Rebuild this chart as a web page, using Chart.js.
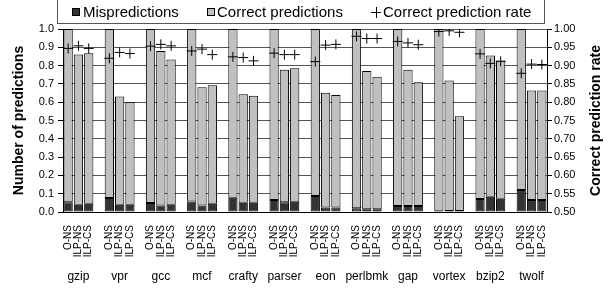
<!DOCTYPE html>
<html>
<head>
<meta charset="utf-8">
<script src="https://cdn.jsdelivr.net/npm/chart.js@4.4.0/dist/chart.umd.min.js"></script>
<style>
  html, body { margin: 0; padding: 0; background: #fff; }
  #wrap { width: 610px; height: 292px; }
</style>
</head>
<body>
<div id="wrap"><canvas id="chart" width="610" height="292"></canvas></div>
<script>
const benchmarks = ['gzip', 'vpr', 'gcc', 'mcf', 'crafty', 'parser', 'eon', 'perlbmk', 'gap', 'vortex', 'bzip2', 'twolf'];
const configs = ['O-NS', 'ILP-NS', 'ILP-CS'];

// fraction of predictions that were wrong
const mispONS   = [0.053, 0.076, 0.049, 0.058, 0.078, 0.065, 0.087, 0.020, 0.033, 0.007, 0.071, 0.120];
const mispILPNS = [0.040, 0.040, 0.036, 0.036, 0.051, 0.053, 0.025, 0.015, 0.033, 0.005, 0.083, 0.066];
const mispILPCS = [0.045, 0.040, 0.040, 0.045, 0.051, 0.056, 0.025, 0.015, 0.033, 0.005, 0.072, 0.066];

// fraction of predictions that were right
const corrONS   = [0.947, 0.924, 0.951, 0.942, 0.922, 0.935, 0.913, 0.980, 0.967, 0.993, 0.929, 0.880];
const corrILPNS = [0.820, 0.591, 0.844, 0.646, 0.593, 0.724, 0.627, 0.756, 0.744, 0.714, 0.772, 0.598];
const corrILPCS = [0.822, 0.560, 0.793, 0.648, 0.584, 0.730, 0.615, 0.724, 0.676, 0.518, 0.755, 0.598];

// correct prediction rate (right axis)
const rateONS   = [0.947, 0.920, 0.953, 0.940, 0.924, 0.934, 0.911, 0.980, 0.966, 0.993, 0.932, 0.879];
const rateILPNS = [0.954, 0.936, 0.958, 0.945, 0.922, 0.930, 0.956, 0.974, 0.962, 0.995, 0.906, 0.904];
const rateILPCS = [0.947, 0.933, 0.954, 0.930, 0.913, 0.930, 0.958, 0.974, 0.957, 0.991, 0.912, 0.903];

const leftTicks = { min: 0, max: 1, step: 0.1 };
const rightTicks = { min: 0.5, max: 1, step: 0.05 };

// one slot per bar, plus an empty slot between benchmarks
const misp = [mispONS, mispILPNS, mispILPCS];
const corr = [corrONS, corrILPNS, corrILPCS];
const rate = [rateONS, rateILPNS, rateILPCS];
const labels = [], mispData = [], corrData = [], rateData = [];
benchmarks.forEach((b, i) => {
  configs.forEach((c, j) => {
    labels.push(c);
    mispData.push(misp[j][i]);
    corrData.push(corr[j][i]);
    rateData.push(rate[j][i]);
  });
  if (i < benchmarks.length - 1) {
    labels.push('');
    mispData.push(null);
    corrData.push(null);
    rateData.push(null);
  }
});

Chart.defaults.font.family = "'Liberation Sans', Arial, sans-serif";
Chart.defaults.color = '#000';

const FONT = "'Liberation Sans', Arial, sans-serif";

const extras = {
  id: 'extras',
  afterDraw(chart) {
    const c = chart.ctx;
    const x = chart.scales.x;
    const area = chart.chartArea;
    const ds = chart.data.datasets;
    c.save();

    // legend box
    c.fillStyle = '#fff';
    c.strokeStyle = '#555';
    c.lineWidth = 1;
    c.fillRect(57.5, -1.5, 487, 25);
    c.strokeRect(57.5, -1.5, 487, 25);

    c.font = '15px ' + FONT;
    c.textBaseline = 'alphabetic';
    // Mispredictions
    c.fillStyle = ds[0].backgroundColor;
    c.fillRect(72.5, 8.5, 7, 7);
    c.strokeStyle = '#000';
    c.strokeRect(72.5, 8.5, 7, 7);
    c.fillStyle = '#000';
    c.fillText(ds[0].label, 83, 17);
    // Correct predictions
    c.fillStyle = ds[1].backgroundColor;
    c.fillRect(207.5, 8.5, 7, 7);
    c.strokeRect(207.5, 8.5, 7, 7);
    c.fillStyle = '#000';
    c.fillText(ds[1].label, 217, 17);
    // rate marker
    c.beginPath();
    c.moveTo(371, 12.5); c.lineTo(381, 12.5);
    c.moveTo(376.5, 7); c.lineTo(376.5, 18);
    c.stroke();
    c.fillText(ds[2].label, 383, 17);

    // benchmark names under each group of three bars
    c.font = '12px ' + FONT;
    c.textAlign = 'center';
    benchmarks.forEach((b, i) => {
      c.fillText(b, x.getPixelForValue(i * 4 + 1), 280);
    });

    // right axis title, reading upward
    c.font = 'bold 14px ' + FONT;
    c.translate(600, (area.top + area.bottom) / 2);
    c.rotate(-Math.PI / 2);
    c.textAlign = 'center';
    c.fillText('Correct prediction rate', 0, 0);
    c.restore();
  }
};

new Chart(document.getElementById('chart'), {
  type: 'bar',
  data: {
    labels: labels,
    datasets: [
      {
        label: 'Mispredictions',
        data: mispData,
        backgroundColor: '#333333',
        borderColor: '#000',
        borderWidth: 1,
        borderSkipped: false,
        stack: 'pred',
        order: 2,
        barPercentage: 0.9,
        categoryPercentage: 1.0
      },
      {
        label: 'Correct predictions',
        data: corrData,
        backgroundColor: '#c0c0c0',
        borderColor: '#000',
        borderWidth: 1,
        borderSkipped: false,
        stack: 'pred',
        order: 2,
        barPercentage: 0.9,
        categoryPercentage: 1.0
      },
      {
        type: 'line',
        label: 'Correct prediction rate',
        data: rateData,
        yAxisID: 'y2',
        showLine: false,
        pointStyle: 'cross',
        pointRadius: 5,
        pointBorderWidth: 1,
        borderColor: '#000',
        backgroundColor: '#000',
        order: 0
      }
    ]
  },
  options: {
    responsive: false,
    animation: false,
    layout: { padding: { top: 29 } },
    plugins: {
      legend: { display: false },
      tooltip: { enabled: false }
    },
    scales: {
      x: {
        stacked: true,
        grid: { display: false },
        border: { color: '#000' },
        ticks: {
          autoSkip: false,
          minRotation: 90,
          maxRotation: 90,
          padding: 5,
          font: { size: 10 },
          color: '#000'
        },
        afterFit: s => { s.height = 80; }
      },
      y: {
        stacked: true,
        min: leftTicks.min,
        max: leftTicks.max,
        border: { color: '#000' },
        grid: { color: '#555', tickColor: '#000', tickLength: 5 },
        ticks: {
          stepSize: leftTicks.step,
          padding: 4,
          font: { size: 11 },
          callback: v => v.toFixed(1)
        },
        title: {
          display: true,
          text: 'Number of predictions',
          font: { size: 14, weight: 'bold' },
          padding: { top: 11, bottom: 0 }
        },
        afterFit: s => { s.width = 63; }
      },
      y2: {
        position: 'right',
        min: rightTicks.min,
        max: rightTicks.max,
        border: { color: '#000' },
        grid: { drawOnChartArea: false, tickColor: '#000', tickLength: 5 },
        ticks: {
          stepSize: rightTicks.step,
          padding: 2,
          font: { size: 11 },
          callback: v => v.toFixed(2)
        },
        afterFit: s => { s.width = 63; }
      }
    }
  },
  plugins: [extras]
});
</script>
</body>
</html>
